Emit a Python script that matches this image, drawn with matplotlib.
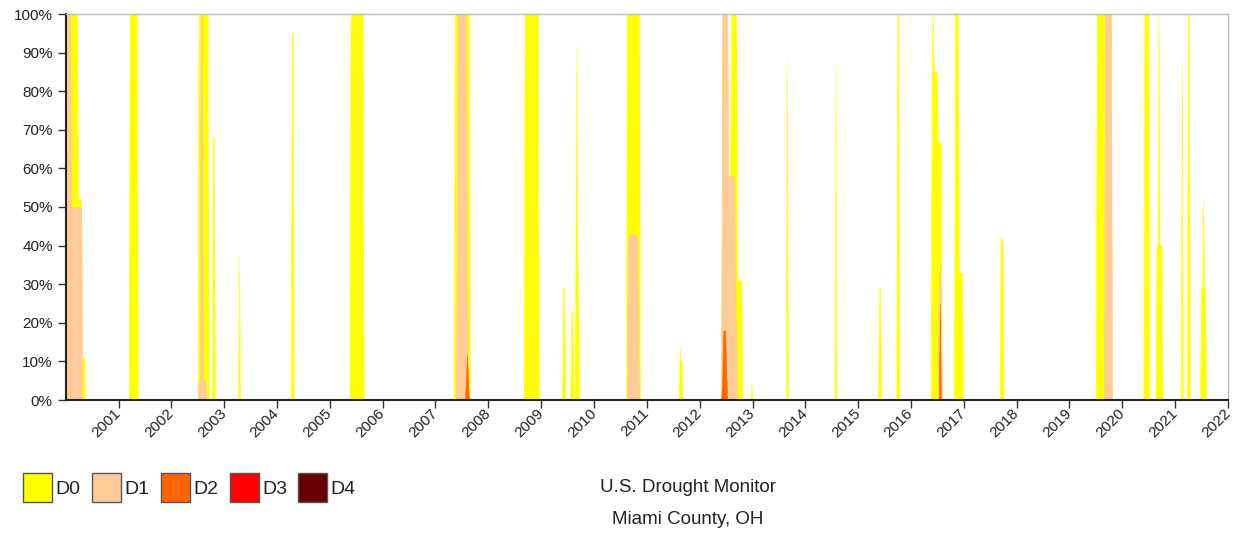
import numpy as np
import pandas as pd
import matplotlib
matplotlib.use('Agg')
from matplotlib import pyplot as plt
import matplotlib.dates as mdates
from matplotlib.patches import Rectangle
from matplotlib.ticker import FuncFormatter

# weekly drought coverage (% of area), listed per episode; all other weeks are 0
ep_start = ['2000-01-04', '2001-03-16', '2002-07-05', '2002-10-10', '2003-04-14',
            '2004-04-07', '2005-05-20', '2007-05-15', '2008-09-09', '2009-05-30',
            '2009-07-24', '2009-08-20', '2010-08-14', '2011-08-15', '2012-05-31',
            '2012-12-25', '2013-08-23', '2014-07-27', '2015-05-20', '2015-09-28',
            '2016-05-20', '2016-10-26', '2017-09-09', '2019-07-03', '2020-05-30',
            '2020-08-20', '2021-02-10', '2021-03-30', '2021-06-28']

ep_d0 = [
    [100] * 12 + [52] * 4 + [11] * 3,
    [100] * 8,
    [100] * 10,
    [68, 68],
    [38],
    [95, 95],
    [98] + [100] * 12,
    [100] * 15,
    [100] * 14,
    [29, 29],
    [23, 23],
    [30, 92, 40, 25],
    [100] * 13,
    [14, 10, 10],
    [100] * 6 + [58] * 3 + [100] * 6 + [31] * 5,
    [4],
    [88],
    [87],
    [29, 29],
    [100, 100],
    [85, 100, 85, 85, 85, 85, 67, 67, 67, 67],
    [100] * 4 + [33] * 4,
    [42, 42, 40],
    [100] * 15,
    [100] * 5,
    [40, 40, 100, 40, 40, 40],
    [88],
    [100, 100],
    [29, 29, 52, 29, 29],
]

ep_d1 = [
    [100] * 5 + [50] * 11,
    [],
    [5, 5, 100, 100, 5, 5, 5, 5],
    [], [], [], [],
    [0, 0, 40] + [100] * 9 + [50],
    [], [], [], [],
    [0, 40, 43, 43, 43, 43, 43, 43, 43, 43, 43, 20],
    [],
    [100] * 6 + [58] * 3 + [58] * 4 + [20] * 2,
    [], [], [], [], [],
    [0, 0, 0, 0, 0, 0, 0, 30, 35, 30],
    [], [],
    [0] * 8 + [100] * 7,
    [], [], [], [], [],
]

ep_d2 = [
    [], [], [], [], [], [], [],
    [0] * 11 + [6, 12, 5],
    [], [], [], [], [], [],
    [5, 18, 18, 18, 8],
    [], [], [], [], [],
    [0] * 8 + [25],
    [], [], [], [], [], [], [], [],
]

ep_d3 = [[] for _ in ep_start]
ep_d4 = [[] for _ in ep_start]

categories = ['D0', 'D1', 'D2', 'D3', 'D4']
colors = ['#ffff00', '#ffcc99', '#ff6600', '#ff0000', '#660000']

weeks = pd.date_range('2000-01-04', '2021-12-28', freq='7D')


def buildSeries(episodes):
    s = np.zeros(len(weeks))
    for start, vals in zip(ep_start, episodes):
        i = weeks.searchsorted(pd.Timestamp(start))
        s[i:i + len(vals)] = vals
    return s


series = [buildSeries(e) for e in (ep_d0, ep_d1, ep_d2, ep_d3, ep_d4)]

plt.rcParams['font.family'] = ['Liberation Sans', 'DejaVu Sans']

fig = plt.figure(figsize=(12.44, 5.33), dpi=100)
ax = fig.add_axes([66 / 1244, 133 / 533, 1162 / 1244, 386 / 533])

for vals, col in zip(series, colors):
    ax.fill_between(weeks, 0, vals, color=col, lw=0.3, edgecolor=col)

ax.set_xlim(pd.Timestamp('2000-01-04'), pd.Timestamp('2022-01-01'))
ax.set_ylim(0, 100)
ax.set_yticks(np.arange(0, 101, 10))
ax.yaxis.set_major_formatter(FuncFormatter(lambda v, p: '%d%%' % v))
ax.xaxis.set_major_locator(mdates.YearLocator())
ax.xaxis.set_major_formatter(mdates.DateFormatter('%Y'))
ax.tick_params(axis='both', direction='out', length=6, width=1, color='#333333',
               labelsize=11, labelcolor='#222222')
ax.tick_params(axis='x', pad=2)
for lbl in ax.get_xticklabels():
    lbl.set_rotation(45)
    lbl.set_ha('right')
    lbl.set_va('center')
    lbl.set_rotation_mode('anchor')

for side in ['top', 'right']:
    ax.spines[side].set_color('#bbbbbb')
    ax.spines[side].set_linewidth(1)
for side in ['bottom', 'left']:
    ax.spines[side].set_color('#222222')
    ax.spines[side].set_linewidth(1.5)

# legend and caption in pixel coordinates
lay = fig.add_axes([0, 0, 1, 1])
lay.set_xlim(0, 1244)
lay.set_ylim(533, 0)
lay.axis('off')
lx = [23, 92, 161, 230, 298]
for x0, cat, col in zip(lx, categories, colors):
    lay.add_patch(Rectangle((x0, 473), 29, 29, facecolor=col, edgecolor='#555555', lw=1))
    lay.text(x0 + 32, 489, cat, fontsize=14, va='center', ha='left', color='#222222')

lay.text(688, 487, 'U.S. Drought Monitor', fontsize=13.5, ha='center', va='center', color='#222222')
lay.text(688, 520, 'Miami County, OH', fontsize=13.5, ha='center', va='center', color='#222222')

fig.savefig('out.png', dpi=100)
